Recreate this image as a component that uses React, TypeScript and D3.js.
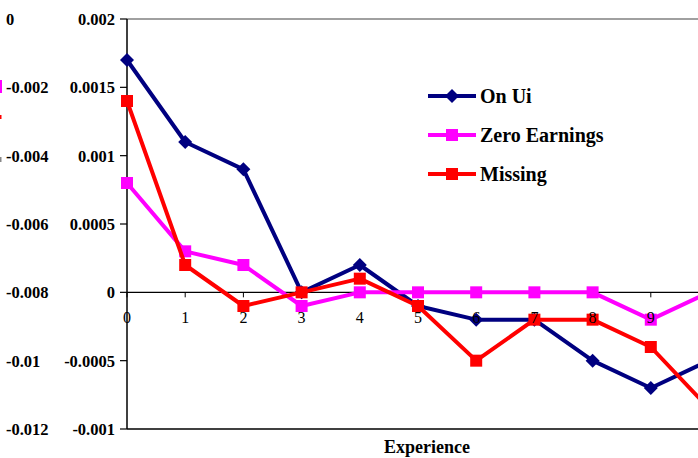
import React from "react";
import * as d3 from "d3";

const categories = [0, 1, 2, 3, 4, 5, 6, 7, 8, 9, 10];
const onUi = [0.0017, 0.0011, 0.0009, 0.0, 0.0002, -0.0001, -0.0002, -0.0002, -0.0005, -0.0007, -0.0005];
const zeroEarnings = [0.0008, 0.0003, 0.0002, -0.0001, 0.0, 0.0, 0.0, 0.0, 0.0, -0.0002, 0.0];
const missing = [0.0014, 0.0002, -0.0001, 0.0, 0.0001, -0.0001, -0.0005, -0.0002, -0.0002, -0.0004, -0.00085];
const rightTicks = [0.002, 0.0015, 0.001, 0.0005, 0, -0.0005, -0.001];
const rightTickLabels = ["0.002", "0.0015", "0.001", "0.0005", "0", "-0.0005", "-0.001"];
const leftTickLabels = ["0", "-0.002", "-0.004", "-0.006", "-0.008", "-0.01", "-0.012"];
const xTickLabels = ["0", "1", "2", "3", "4", "5", "6", "7", "8", "9"];

const series = [
  { name: "On Ui", values: onUi, color: "#000080", marker: "diamond" },
  { name: "Zero Earnings", values: zeroEarnings, color: "#FF00FF", marker: "square" },
  { name: "Missing", values: missing, color: "#FF0000", marker: "square" },
];

const W = 698;
const H = 458;
const FONT = "'Liberation Serif', 'Times New Roman', serif";
const ts = { fontFamily: FONT };

function Marker({ type, x, y, color }: { type: string; x: number; y: number; color: string }) {
  if (type === "diamond") {
    const s = 7;
    return <path d={`M${x},${y - s}L${x + s},${y}L${x},${y + s}L${x - s},${y}Z`} fill={color} />;
  }
  const s = 6;
  return <rect x={x - s} y={y - s} width={2 * s} height={2 * s} fill={color} />;
}

export default function App() {
  const x = d3.scaleLinear().domain([0, 1]).range([127, 185.2]);
  const y = d3.scaleLinear().domain([-0.001, 0.002]).range([429, 19]);
  const y0 = y(0);
  const line = d3
    .line<number>()
    .x((_, i) => x(categories[i]))
    .y((d) => y(d));

  return (
    <svg width={W} height={H} style={{ position: "fixed", left: 0, top: 0, background: "#fff" }}>
      <rect x={0} y={0} width={W} height={H} fill="#fff" />
      {/* fragments of neighbouring chart at far left */}
      <rect x={0} y={80} width={2} height={13} fill="#FF00FF" />
      <rect x={0} y={115} width={1.5} height={4} fill="#FF0000" />
      <rect x={0} y={157} width={1.5} height={5} fill="#888" />

      {/* left (secondary) labels */}
      {leftTickLabels.map((t, i) => (
        <text key={t} x={6} y={y(rightTicks[i]) + 6} fontSize={16.5} fontWeight="bold" fill="#000" style={ts}>
          {t}
        </text>
      ))}

      {/* top border */}
      <line x1={127} x2={W} y1={19} y2={19} stroke="#808080" strokeWidth={1.5} />
      {/* bottom border */}
      <line x1={127} x2={W} y1={429} y2={429} stroke="#000" strokeWidth={1.5} />
      {/* y axis */}
      <line x1={127} x2={127} y1={19} y2={429} stroke="#000" strokeWidth={1.5} />
      {rightTicks.map((t, i) => (
        <g key={i}>
          <line x1={120} x2={127} y1={y(t)} y2={y(t)} stroke="#000" strokeWidth={1.2} />
          <text x={115} y={y(t) + 6} textAnchor="end" fontSize={16.5} fontWeight="bold" fill="#000" style={ts}>
            {rightTickLabels[i]}
          </text>
        </g>
      ))}
      {/* x axis at zero */}
      <line x1={127} x2={W} y1={y0} y2={y0} stroke="#000" strokeWidth={1.2} />
      {categories.map((c) => (
        <line key={c} x1={x(c)} x2={x(c)} y1={y0} y2={y0 + 5} stroke="#000" strokeWidth={1} />
      ))}

      {series.map((s) => (
        <g key={s.name}>
          <path d={line(s.values) || ""} fill="none" stroke={s.color} strokeWidth={4} strokeLinejoin="round" />
          {s.values.map((v, i) => (
            <Marker key={i} type={s.marker} x={x(categories[i])} y={y(v)} color={s.color} />
          ))}
        </g>
      ))}

      {xTickLabels.map((t, i) => (
        <text key={t} x={x(i)} y={y0 + 31} textAnchor="middle" fontSize={16} fill="#000" style={ts}>
          {t}
        </text>
      ))}

      <text x={427} y={453} textAnchor="middle" fontSize={18} fontWeight="bold" fill="#000" style={ts}>
        Experience
      </text>

      {/* legend */}
      {series.map((s, i) => {
        const ly = 96 + i * 39;
        return (
          <g key={s.name}>
            <line x1={428} x2={476} y1={ly} y2={ly} stroke={s.color} strokeWidth={4} />
            <Marker type={s.marker} x={452} y={ly} color={s.color} />
            <text x={480} y={ly + 7} fontSize={20} fontWeight="bold" fill="#000" style={ts}>
              {s.name}
            </text>
          </g>
        );
      })}
    </svg>
  );
}
